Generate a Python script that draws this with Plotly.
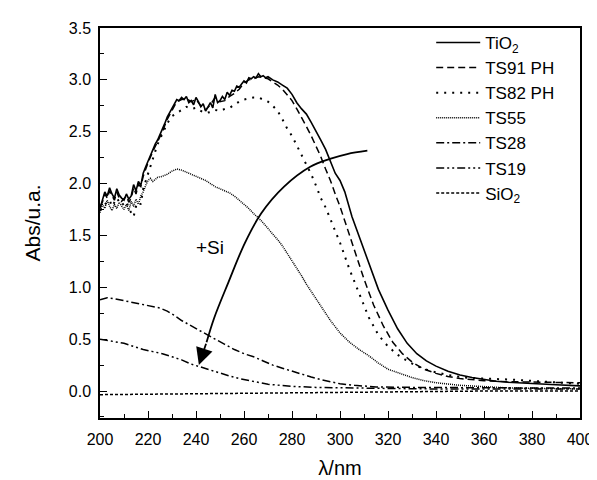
import plotly.graph_objects as go

# ---------------- data ----------------
tio2_x = [200,201,202,203,204,205,206,207,208,209,210,211,212,213,214,215,216,217,218,219,
          220,221,222,223,224,225,226,227,228,229,230,231,232,233,234,235,236,237,238,239,
          240,241,242,243,244,245,246,247,248,249,250,251,252,253,254,255,256,257,258,259,
          260,261,262,263,264,265,266,267,268,269,270,272,274,276,278,280,282,284,286,288,
          290,292,294,296,298,300,302,305,308,312,316,320,324,328,332,336,340,345,350,355,
          360,365,370,380,390,400]
tio2_y = [1.76,1.85,1.92,1.88,1.96,1.90,1.86,1.95,1.89,1.86,1.84,1.90,1.85,1.88,1.99,1.93,2.02,1.98,2.10,2.16,
          2.22,2.26,2.33,2.38,2.42,2.47,2.52,2.58,2.64,2.68,2.72,2.76,2.81,2.80,2.83,2.81,2.84,2.78,2.80,2.76,
          2.83,2.79,2.74,2.77,2.70,2.74,2.78,2.73,2.86,2.78,2.80,2.84,2.81,2.88,2.85,2.90,2.89,2.94,2.93,2.96,
          2.99,2.97,3.02,3.01,3.03,3.02,3.06,3.03,3.04,3.02,3.03,3.00,2.98,2.95,2.92,2.86,2.78,2.72,2.67,2.59,
          2.51,2.42,2.33,2.22,2.10,2.03,1.92,1.68,1.49,1.22,0.98,0.78,0.60,0.46,0.36,0.29,0.24,0.19,0.155,0.13,
          0.11,0.095,0.085,0.07,0.06,0.05]

ts91_x = [200,201,202,203,204,205,206,207,208,209,210,211,212,213,214,215,216,217,218,219,
          220,222,224,226,228,230,232,234,236,238,240,242,244,246,248,250,252,254,256,258,
          260,262,264,266,268,270,272,274,276,278,280,282,284,286,288,290,292,294,296,298,
          300,303,306,310,314,318,322,326,330,335,340,345,350,360,370,380,390,400]
ts91_y = [1.78,1.82,1.90,1.86,1.93,1.88,1.84,1.92,1.86,1.83,1.86,1.88,1.82,1.86,1.96,1.90,1.99,1.97,2.07,2.14,
          2.20,2.31,2.40,2.50,2.62,2.70,2.79,2.81,2.82,2.79,2.81,2.75,2.71,2.76,2.83,2.79,2.80,2.84,2.87,2.91,
          2.97,3.00,3.01,3.03,3.02,3.01,2.98,2.95,2.91,2.86,2.80,2.72,2.64,2.55,2.46,2.36,2.26,2.14,2.03,1.90,
          1.78,1.57,1.36,1.08,0.83,0.63,0.47,0.36,0.28,0.21,0.17,0.14,0.12,0.10,0.09,0.085,0.08,0.08]

ts82_x = [200,202,204,205,207,209,211,212,214,215,216,217,218,220,222,224,226,228,230,232,
          234,236,238,240,242,244,246,248,250,252,254,256,258,260,262,264,266,268,270,272,
          274,276,278,280,282,284,286,288,290,292,294,296,298,300,304,308,312,316,320,324,
          328,332,338,345,352,360,372,385,400]
ts82_y = [1.74,1.80,1.84,1.78,1.86,1.79,1.83,1.76,1.68,1.78,1.82,1.80,1.95,2.10,2.25,2.38,2.48,2.58,2.65,2.68,
          2.71,2.74,2.72,2.73,2.70,2.68,2.69,2.71,2.70,2.72,2.73,2.76,2.79,2.81,2.82,2.83,2.83,2.81,2.79,2.75,
          2.70,2.62,2.53,2.46,2.37,2.28,2.19,2.09,1.98,1.86,1.77,1.66,1.55,1.43,1.17,0.93,0.71,0.54,0.43,0.35,
          0.29,0.24,0.19,0.155,0.13,0.12,0.11,0.09,0.07]

ts55_x = [200,201,202,203,204,205,206,207,208,209,210,211,212,213,214,215,216,217,218,219,
          220,221,222,223,224,226,228,230,232,234,236,238,240,242,244,246,248,250,252,254,
          256,258,260,262,264,266,268,270,272,274,276,278,280,282,284,286,288,290,292,294,
          296,298,300,304,308,312,316,320,325,330,335,340,350,360,370,385,400]
ts55_y = [1.72,1.80,1.76,1.84,1.78,1.74,1.80,1.76,1.82,1.78,1.75,1.80,1.74,1.83,1.78,1.85,1.80,1.88,1.92,1.98,
          2.03,2.05,2.02,2.04,2.06,2.07,2.09,2.12,2.14,2.13,2.11,2.09,2.07,2.05,2.03,2.00,1.97,1.95,1.93,1.91,
          1.88,1.84,1.80,1.76,1.71,1.67,1.62,1.57,1.51,1.46,1.40,1.33,1.26,1.19,1.11,1.03,0.96,0.88,0.81,0.74,
          0.68,0.62,0.56,0.47,0.40,0.34,0.27,0.21,0.17,0.13,0.10,0.08,0.055,0.04,0.03,0.025,0.02]

ts28_x = [200,203,206,210,214,218,222,225,228,231,234,237,240,244,248,252,256,260,264,268,
          272,276,280,284,288,292,296,300,306,315,330,350,375,400]
ts28_y = [0.88,0.90,0.89,0.87,0.85,0.83,0.815,0.80,0.77,0.73,0.68,0.64,0.60,0.55,0.50,0.45,0.40,0.36,0.33,0.29,
          0.25,0.22,0.19,0.16,0.135,0.11,0.09,0.07,0.055,0.04,0.035,0.03,0.03,0.03]

ts19_x = [200,203,206,210,214,218,222,226,230,234,238,242,246,250,254,258,262,266,270,275,
          280,290,300,320,340,360,380,400]
ts19_y = [0.50,0.49,0.48,0.46,0.43,0.40,0.38,0.36,0.33,0.30,0.26,0.23,0.20,0.17,0.145,0.12,0.10,0.08,0.065,0.055,
          0.045,0.035,0.03,0.025,0.02,0.02,0.02,0.02]

sio2_x = [200,220,240,260,280,300,320,340,360,380,400]
sio2_y = [-0.035,-0.03,-0.025,-0.02,-0.015,-0.01,-0.005,-0.005,0.0,0.0,0.0]

series_names = ["TiO<sub>2</sub>", "TS91 PH", "TS82 PH", "TS55", "TS28", "TS19", "SiO<sub>2</sub>"]

# annotation arrow path ("+Si")
arrow_x = [311.4, 303.0, 295.8, 287.6, 276.7, 267.2, 260.4, 253.5, 247.5, 244.4]
arrow_y = [2.317, 2.285, 2.238, 2.162, 1.971, 1.714, 1.429, 1.048, 0.70, 0.47]
arrow_tip = (241.2, 0.25)
label_pos = (246.0, 1.38)

x_ticks = [200, 220, 240, 260, 280, 300, 320, 340, 360, 380, 400]
y_ticks = [0.0, 0.5, 1.0, 1.5, 2.0, 2.5, 3.0, 3.5]

# ---------------- figure ----------------
FONT = "Liberation Sans, Arial, sans-serif"
data = [(tio2_x, tio2_y), (ts91_x, ts91_y), (ts82_x, ts82_y), (ts55_x, ts55_y),
        (ts28_x, ts28_y), (ts19_x, ts19_y), (sio2_x, sio2_y)]
styles = [
    dict(dash="solid", width=1.6),
    dict(dash="7px,4px", width=1.5),
    dict(dash="2px,6px", width=2.0),
    dict(dash="1px,1px", width=1.5),
    dict(dash="8px,3px,2px,3px", width=1.5),
    dict(dash="8px,3px,2px,3px,2px,3px", width=1.5),
    dict(dash="3px,2px", width=1.5),
]

fig = go.Figure()
for (xs, ys), nm, st in zip(data, series_names, styles):
    fig.add_trace(go.Scatter(x=xs, y=ys, mode="lines", name=nm,
                             line=dict(color="black", width=st["width"], dash=st["dash"])))

fig.add_trace(go.Scatter(x=arrow_x, y=arrow_y, mode="lines", showlegend=False,
                         line=dict(color="black", width=1.8, shape="spline", smoothing=1.0),
                         hoverinfo="skip"))
fig.add_annotation(x=arrow_tip[0], y=arrow_tip[1], ax=arrow_x[-1], ay=arrow_y[-1],
                   xref="x", yref="y", axref="x", ayref="y", text="", showarrow=True,
                   arrowhead=2, arrowsize=1.9, arrowwidth=1.8, arrowcolor="black")
fig.add_annotation(x=label_pos[0], y=label_pos[1], xref="x", yref="y", text="+Si",
                   showarrow=False, font=dict(size=19, color="black", family=FONT))

axis_common = dict(showline=True, linecolor="black", linewidth=1.5, mirror=True,
                   ticks="inside", ticklen=7, tickwidth=1.2, tickcolor="black",
                   showgrid=False, zeroline=False,
                   tickfont=dict(size=16, color="black", family=FONT))

fig.update_xaxes(range=[200, 400], tickvals=x_ticks,
                 minor=dict(ticks="inside", ticklen=4, tickwidth=1.2, tickcolor="black", dtick=10),
                 title=dict(text="λ/nm", font=dict(size=20, color="black", family=FONT), standoff=14),
                 ticklabelstandoff=6, **axis_common)
fig.update_yaxes(range=[-0.26, 3.5], tickvals=y_ticks, tickformat=".1f",
                 minor=dict(ticks="inside", ticklen=4, tickwidth=1.2, tickcolor="black", dtick=0.25, tick0=0),
                 title=dict(text="Abs/u.a.", font=dict(size=21, color="black", family=FONT), standoff=22),
                 ticklabelstandoff=4, **axis_common)

fig.update_layout(
    width=597, height=480,
    margin=dict(l=92, r=15, t=18, b=63),
    paper_bgcolor="white", plot_bgcolor="white",
    font=dict(family=FONT, color="black"),
    legend=dict(x=0.69, y=1.008, xanchor="left", yanchor="top",
                bgcolor="rgba(0,0,0,0)", font=dict(size=17, color="black", family=FONT),
                tracegroupgap=0, itemwidth=44),
    showlegend=True,
)

fig.write_html("out.html")
